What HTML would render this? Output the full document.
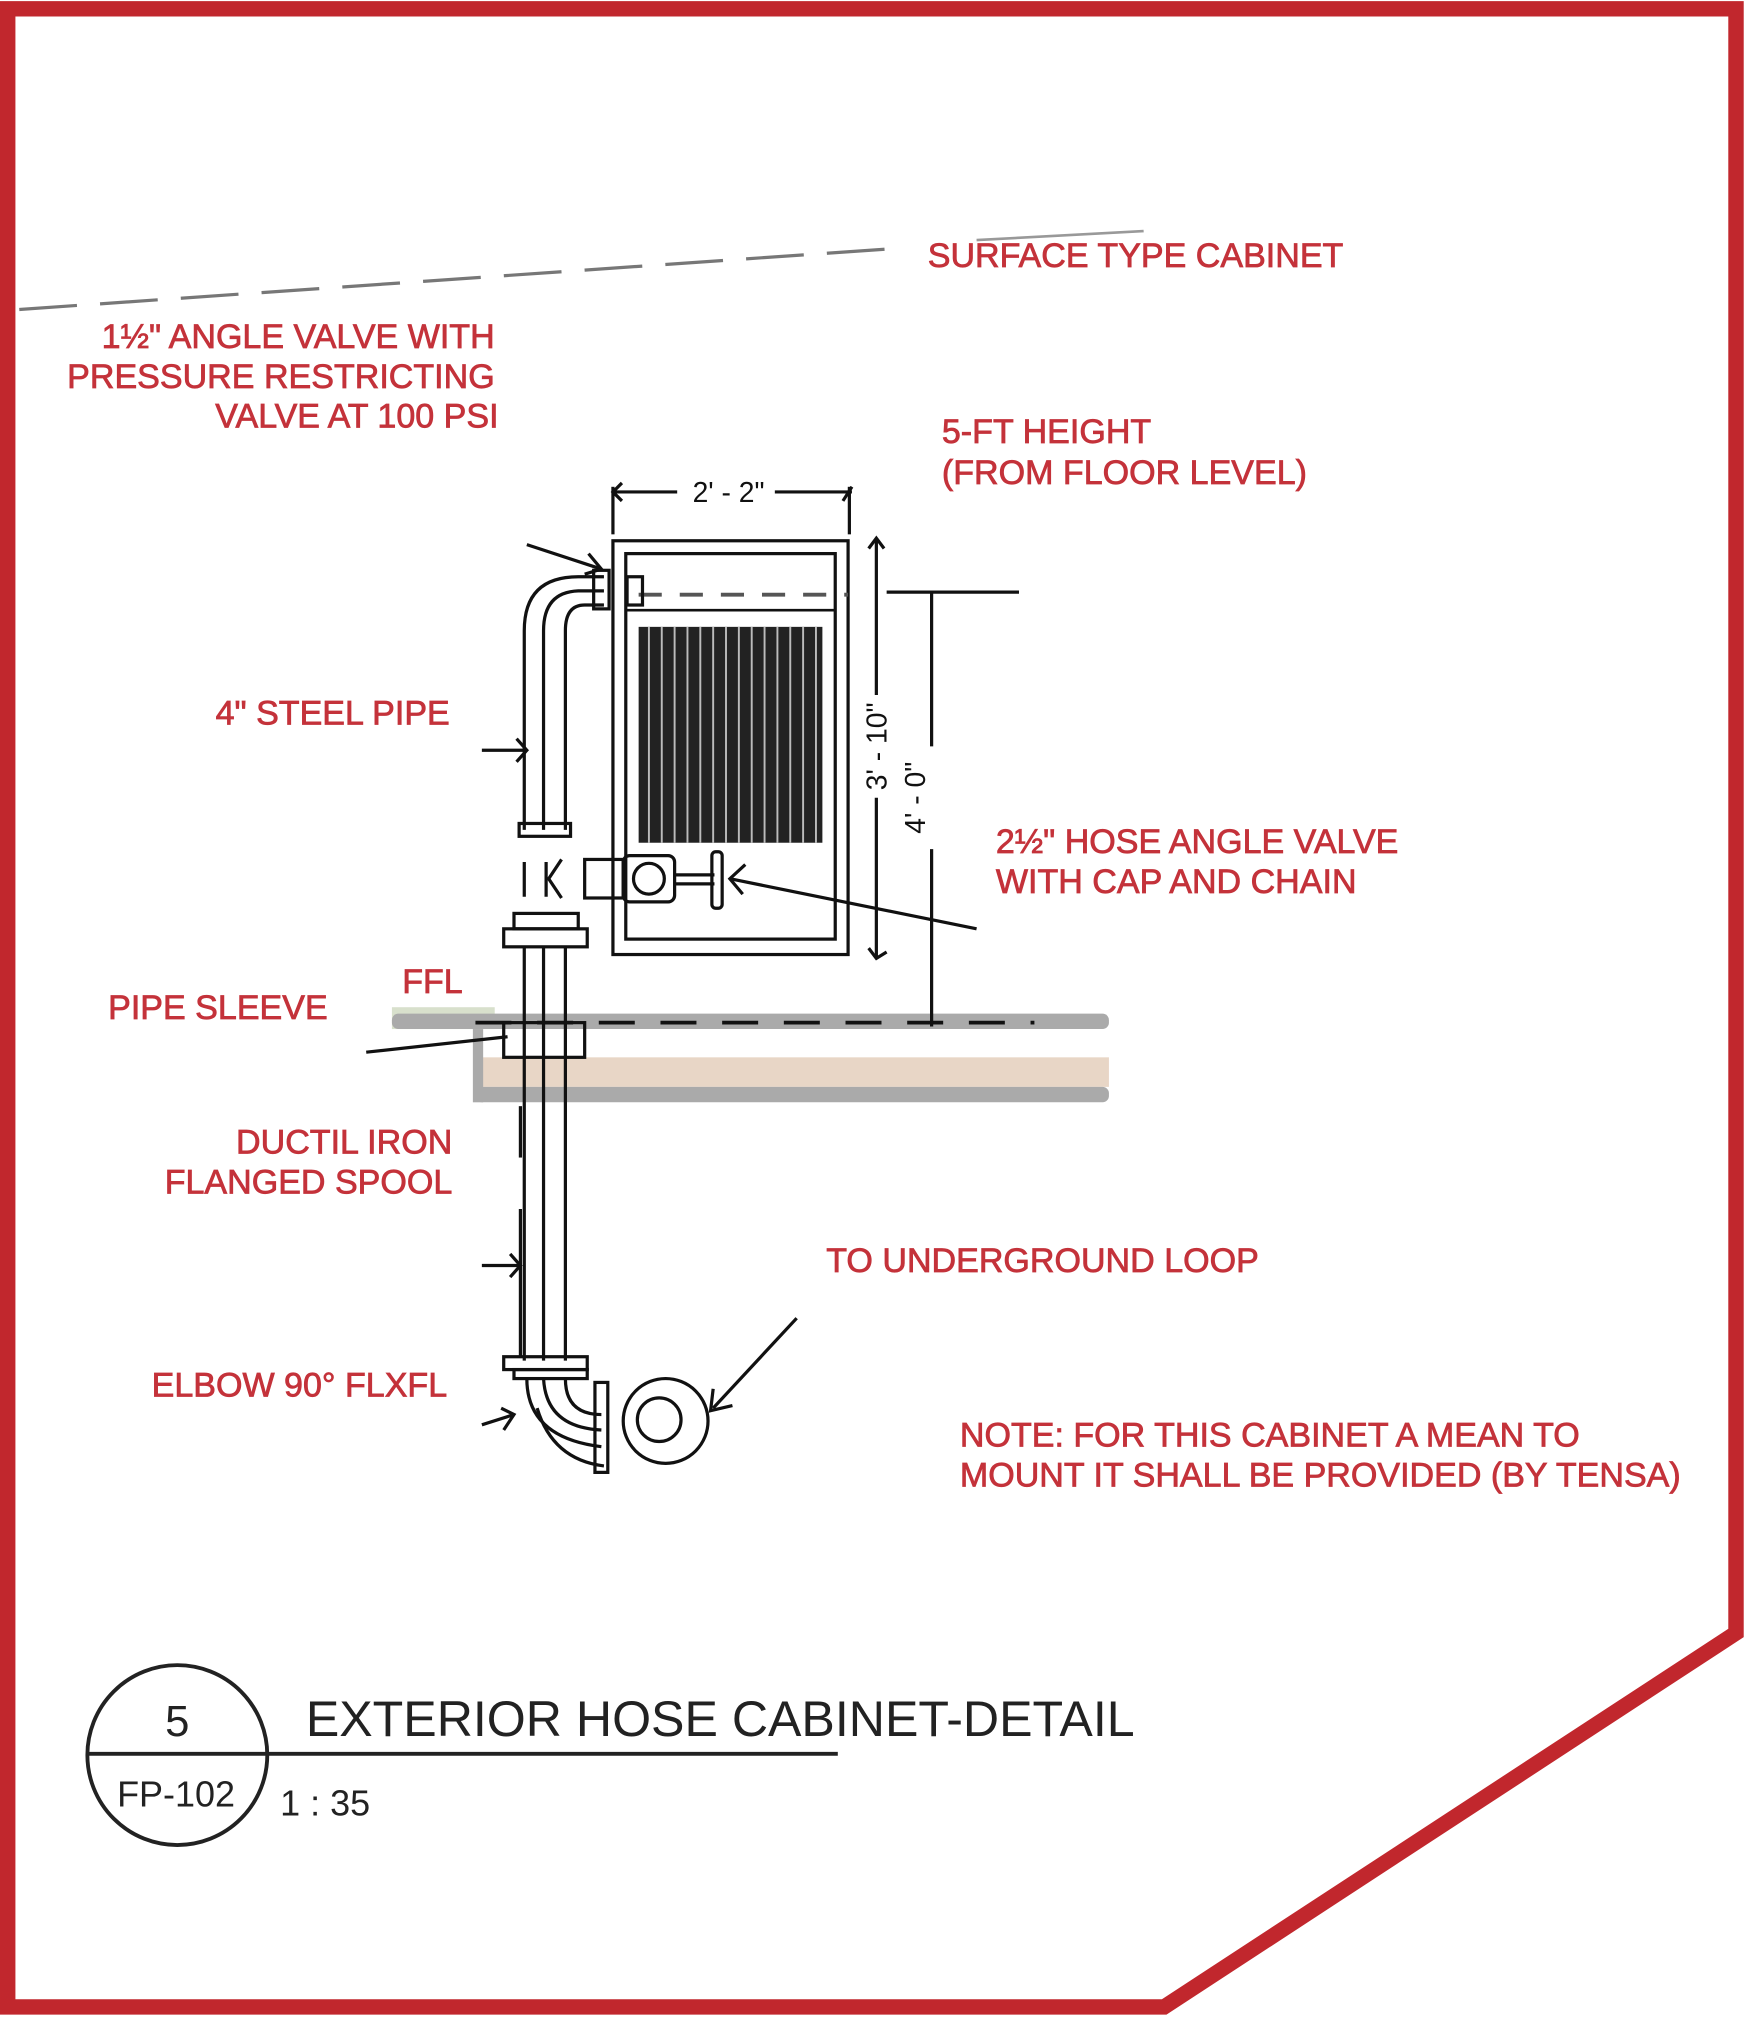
<!DOCTYPE html>
<html><head><meta charset="utf-8"><style>
html,body{margin:0;padding:0;background:#fff}
svg{display:block}
.r{fill:#c4323a;stroke:#c4323a;stroke-width:0.6;font-family:"Liberation Sans",sans-serif;font-size:26.5px}
.k{stroke:#111;fill:none;stroke-width:2.5}
</style></head><body>
<svg width="1745" height="2017" viewBox="0 0 1358 1568" xmlns="http://www.w3.org/2000/svg">
<rect width="1358" height="1568" fill="#fff"/>
<polygon points="6,6 1351,6 1351,1270 906,1561 6,1561" fill="none" stroke="#c1272d" stroke-width="12"/>
<line x1="15" y1="240" x2="690" y2="193" stroke="#777" stroke-width="2.5" stroke-dasharray="45,18"/>
<line x1="760" y1="186" x2="890" y2="179" stroke="#999" stroke-width="2"/>
<text class="r" x="722" y="207">SURFACE TYPE CABINET</text>
<g text-anchor="end">
<text class="r" x="385" y="270">1½" ANGLE VALVE WITH</text>
<text class="r" x="385" y="301">PRESSURE RESTRICTING</text>
<text class="r" x="388" y="332">VALVE AT 100 PSI</text>
<text class="r" x="350" y="563">4" STEEL PIPE</text>
<text class="r" x="255" y="792">PIPE SLEEVE</text>
<text class="r" x="352" y="897">DUCTIL IRON</text>
<text class="r" x="352" y="928">FLANGED SPOOL</text>
<text class="r" x="348" y="1086">ELBOW 90° FLXFL</text>
</g>
<text class="r" x="733" y="344">5-FT HEIGHT</text>
<text class="r" x="733" y="376">(FROM FLOOR LEVEL)</text>
<text class="r" x="775" y="663">2½" HOSE ANGLE VALVE</text>
<text class="r" x="775" y="694">WITH CAP AND CHAIN</text>
<text class="r" x="313" y="772">FFL</text>
<text class="r" x="643" y="989">TO UNDERGROUND LOOP</text>
<text class="r" x="747" y="1125">NOTE: FOR THIS CABINET A MEAN TO</text>
<text class="r" x="747" y="1156">MOUNT IT SHALL BE PROVIDED (BY TENSA)</text>
<!-- floor slab -->
<rect x="305" y="783" width="80" height="17" fill="#d8e0cc"/>
<rect x="305" y="788" width="558" height="12" rx="5" fill="#aaa"/>
<rect x="370" y="822" width="493" height="23" fill="#e8d6c6"/>
<rect x="370" y="845" width="493" height="12" rx="5" fill="#aaa"/>
<rect x="368" y="800" width="8" height="57" fill="#aaa"/>
<line x1="370" y1="795" x2="805" y2="795" stroke="#111" stroke-width="3" stroke-dasharray="28,20"/>
<rect x="392" y="795" width="63" height="27" class="k"/>
<!-- dimensions -->
<g class="k" stroke-width="2">
<line x1="477" y1="382" x2="527" y2="382"/><line x1="603" y1="382" x2="663" y2="382"/>
<line x1="477" y1="378" x2="477" y2="415"/><line x1="661" y1="378" x2="661" y2="415"/>
<path d="M484 375 L477 382 L484 389 M656 389 L663 378"/>
<line x1="682" y1="420" x2="682" y2="540"/><line x1="682" y1="620" x2="682" y2="745"/>
<path d="M676 426 L682 418 L688 426 M676 737 L682 745 L690 740"/>
<line x1="690" y1="460" x2="793" y2="460"/>
<line x1="725" y1="460" x2="725" y2="580"/><line x1="725" y1="660" x2="725" y2="798"/>
<line x1="410" y1="423" x2="468" y2="442"/>
<path d="M458 430 L468 442 L455 446"/>
<line x1="760" y1="722" x2="568" y2="683"/>
<path d="M580 672 L568 683 L578 695"/>
<line x1="620" y1="1025" x2="555" y2="1095"/>
<path d="M555 1080 L553 1097 L570 1093"/>
<line x1="285" y1="818" x2="395" y2="806"/>
<line x1="375" y1="583" x2="410" y2="583"/>
<path d="M402 574 L410 583 L402 592"/>
<line x1="375" y1="984" x2="405" y2="984"/>
<path d="M397 975 L405 984 L397 993"/>
<line x1="375" y1="1108" x2="400" y2="1100"/>
<path d="M390 1095 L400 1100 L392 1112"/>
</g>
<text x="567" y="390" text-anchor="middle" font-family="Liberation Sans,sans-serif" font-size="22" fill="#111">2' - 2"</text>
<text transform="translate(690,580) rotate(-90)" text-anchor="middle" font-family="Liberation Sans,sans-serif" font-size="22" fill="#111">3' - 10"</text>
<text transform="translate(720,620) rotate(-90)" text-anchor="middle" font-family="Liberation Sans,sans-serif" font-size="22" fill="#111">4' - 0"</text>
<!-- cabinet -->
<rect x="477" y="420" width="183" height="322" class="k" stroke-width="3"/>
<rect x="487" y="430" width="163" height="300" class="k"/>
<line x1="497" y1="462" x2="660" y2="462" stroke="#555" stroke-width="3" stroke-dasharray="18,14"/>
<line x1="487" y1="474" x2="650" y2="474" stroke="#111" stroke-width="2"/>
<rect x="488" y="448" width="12" height="22" class="k" stroke-width="2"/>
<rect x="497" y="487" width="143" height="168" fill="#222"/>
<g stroke="#bbb" stroke-width="1.5">
<line x1="505" y1="487" x2="505" y2="655"/><line x1="515" y1="487" x2="515" y2="655"/><line x1="525" y1="487" x2="525" y2="655"/><line x1="535" y1="487" x2="535" y2="655"/><line x1="545" y1="487" x2="545" y2="655"/><line x1="555" y1="487" x2="555" y2="655"/><line x1="565" y1="487" x2="565" y2="655"/><line x1="575" y1="487" x2="575" y2="655"/><line x1="585" y1="487" x2="585" y2="655"/><line x1="595" y1="487" x2="595" y2="655"/><line x1="605" y1="487" x2="605" y2="655"/><line x1="615" y1="487" x2="615" y2="655"/><line x1="625" y1="487" x2="625" y2="655"/><line x1="635" y1="487" x2="635" y2="655"/>
</g>
<!-- valve -->
<rect x="455" y="668" width="30" height="30" class="k" stroke-width="3"/>
<rect x="485" y="665" width="40" height="36" rx="5" class="k" stroke-width="3"/>
<circle cx="505" cy="683" r="12" class="k" stroke-width="3"/>
<line x1="525" y1="680" x2="556" y2="680" class="k"/><line x1="525" y1="687" x2="556" y2="687" class="k"/>
<rect x="554" y="662" width="8" height="44" rx="3" class="k"/>
<path d="M408 670 V697 M425 670 V697 M437 668 L427 683 L437 698" class="k" stroke-width="3"/>
<!-- upper pipe -->
<path d="M408 645 V490 Q408 448 450 448 H470 M440 645 V490 Q440 470 455 470 H470 M423 645 V490 Q423 460 450 459 H470" class="k"/>
<rect x="404" y="640" width="40" height="10" class="k"/>
<rect x="462" y="443" width="12" height="30" class="k"/>
<!-- lower pipe -->
<rect x="400" y="710" width="50" height="12" class="k"/>
<rect x="392" y="722" width="65" height="14" class="k" stroke-width="3"/>
<path d="M408 736 V1058 M423 736 V1058 M440 736 V1058" class="k"/>
<line x1="405" y1="860" x2="405" y2="900" class="k"/>
<line x1="405" y1="940" x2="405" y2="1055" class="k"/>
<rect x="392" y="1055" width="65" height="10" class="k" stroke-width="3"/>
<rect x="400" y="1065" width="57" height="7" class="k"/>
<path d="M410 1072 Q410 1118 468 1125 M423 1072 Q425 1110 468 1112 M440 1072 Q440 1100 468 1100" class="k"/>
<path d="M418 1095 Q430 1135 470 1140" class="k"/>
<rect x="463" y="1075" width="10" height="70" class="k"/>
<circle cx="518" cy="1105" r="33" class="k"/>
<circle cx="513" cy="1104" r="17" class="k"/>
<!-- title -->
<circle cx="138" cy="1365" r="70" fill="none" stroke="#222" stroke-width="3"/>
<line x1="68" y1="1364" x2="652" y2="1364" stroke="#222" stroke-width="3"/>
<text x="138" y="1350" text-anchor="middle" font-family="Liberation Sans,sans-serif" font-size="34" fill="#222">5</text>
<text x="137" y="1405" text-anchor="middle" font-family="Liberation Sans,sans-serif" font-size="28" fill="#222">FP-102</text>
<text x="238" y="1350" font-family="Liberation Sans,sans-serif" font-size="39" fill="#222">EXTERIOR HOSE CABINET-DETAIL</text>
<text x="218" y="1412" font-family="Liberation Sans,sans-serif" font-size="28" fill="#222">1 : 35</text>
</svg>
</body></html>
